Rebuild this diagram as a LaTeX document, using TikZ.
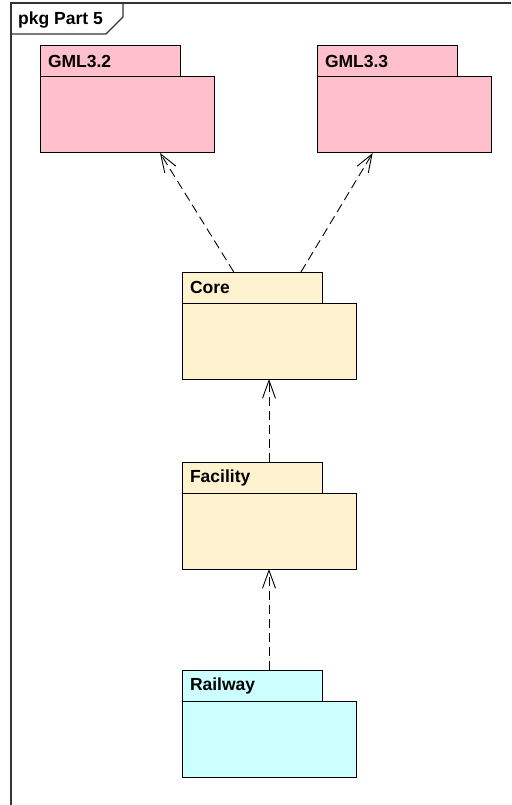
\documentclass[tikz,border=0pt]{standalone}
\usepackage{fontspec}
\setmainfont{Liberation Sans}
\usetikzlibrary{arrows.meta,positioning,calc}
\definecolor{gmlpink}{RGB}{255,192,203}
\definecolor{corecream}{RGB}{255,242,206}
\definecolor{railcyan}{RGB}{204,255,255}
\tikzset{
    pkgfont/.style={font=\fontsize{17.5}{19}\selectfont\bfseries},
    pkgtab/.style={draw,line width=1pt,anchor=north west,text width=124pt,inner xsep=8pt,inner ysep=0pt,outer sep=0pt,minimum height=31pt,align=left,pkgfont},
    pkgbody/.style={draw,line width=1pt,anchor=north west,minimum width=174pt,minimum height=76pt,inner sep=0pt,outer sep=0pt},
    dep/.style={-{Straight Barb[length=18pt,width=13pt]},line width=0.9pt,dash pattern=on 9pt off 5pt},
    frameline/.style={line width=1.2pt,draw=black!80}
}

\begin{document}
\begin{tikzpicture}[x=1pt,y=-1pt]
    \useasboundingbox (0,0) rectangle (511,805);

    % frame
    \draw[frameline] (11,805) -- (11,3) -- (511,3);
    \draw[frameline] (123,3) -- (123,17) -- (106,34) -- (11,34);
    \node[pkgfont,anchor=base west,inner sep=0pt] (frame-label) at (18,25) {pkg Part 5};

    % packages
    \node[pkgtab,fill=gmlpink] (gml32-tab) at (40,46) {GML3.2};
    \node[pkgbody,fill=gmlpink] (gml32) at (gml32-tab.south west) {};

    \node[pkgtab,fill=gmlpink] (gml33-tab) at (317,46) {GML3.3};
    \node[pkgbody,fill=gmlpink] (gml33) at (gml33-tab.south west) {};

    \node[pkgtab,fill=corecream] (core-tab) at (182,272) {Core};
    \node[pkgbody,fill=corecream] (core) at (core-tab.south west) {};

    \node[pkgtab,fill=corecream] (facility-tab) [below right=83pt and 0pt of core.south west] {Facility};
    \node[pkgbody,fill=corecream] (facility) at (facility-tab.south west) {};

    \node[pkgtab,fill=railcyan] (railway-tab) [below right=101pt and 0pt of facility.south west] {Railway};
    \node[pkgbody,fill=railcyan] (railway) at (railway-tab.south west) {};

    % dependencies
    \draw[dep] ($(core-tab.north west)!0.37!(core-tab.north east)$) -- ($(gml32.south west)!0.69!(gml32.south east)$);
    \draw[dep] ($(core-tab.north west)!0.85!(core-tab.north east)$) -- ($(gml33.south west)!0.32!(gml33.south east)$);
    \draw[dep] (facility-tab.north -| facility.north) -- (core.south);
    \draw[dep] (railway-tab.north -| railway.north) -- (facility.south);

\end{tikzpicture}
\end{document}
